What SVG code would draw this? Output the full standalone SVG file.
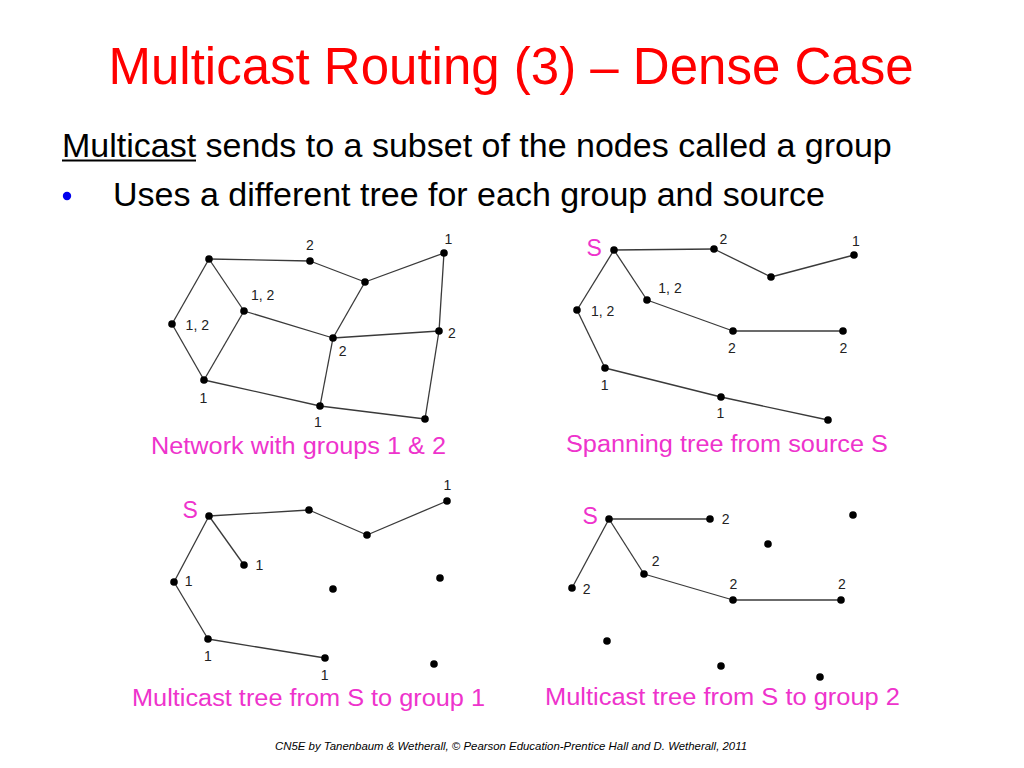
<svg xmlns="http://www.w3.org/2000/svg" width="1024" height="768" viewBox="0 0 1024 768">
<style>
.title{font-family:"Liberation Sans",Arial,sans-serif;font-size:51px;fill:#ff0000}
.body{font-family:"Liberation Sans",Arial,sans-serif;font-size:34px;fill:#000}
.cap{font-family:"Liberation Sans",Arial,sans-serif;font-size:23px;fill:#ee33cc}
.src{font-family:"Liberation Sans",Arial,sans-serif;font-size:23px;fill:#ee33cc}
.lbl{font-family:"Liberation Sans",Arial,sans-serif;font-size:14px;fill:#222;text-anchor:middle}
.foot{font-family:"Liberation Sans",Arial,sans-serif;font-size:11px;font-style:italic;fill:#000}
.n{fill:#000}
.e line{stroke:#3a3a3a;stroke-width:1.3}
</style>
<rect width="1024" height="768" fill="#fff"/>
<text class="title" x="511" y="84" text-anchor="middle">Multicast Routing (3) – Dense Case</text>
<text class="body" x="62" y="157">Multicast sends to a subset of the nodes called a group</text>
<rect x="62" y="159.5" width="134" height="2" fill="#000"/>
<circle cx="67" cy="196" r="4.2" fill="#0000ee"/>
<text class="body" x="113" y="206">Uses a different tree for each group and source</text>

<g id="connectors">
<g class="e" id="edges-network">
<line x1="209" y1="259" x2="310" y2="261"/>
<line x1="310" y1="261" x2="365" y2="282"/>
<line x1="365" y1="282" x2="444" y2="253"/>
<line x1="209" y1="259" x2="172" y2="324"/>
<line x1="209" y1="259" x2="244" y2="311"/>
<line x1="172" y1="324" x2="204" y2="380"/>
<line x1="244" y1="311" x2="204" y2="380"/>
<line x1="244" y1="311" x2="333" y2="338"/>
<line x1="365" y1="282" x2="333" y2="338"/>
<line x1="333" y1="338" x2="439" y2="331"/>
<line x1="444" y1="253" x2="439" y2="331"/>
<line x1="333" y1="338" x2="320" y2="406"/>
<line x1="204" y1="380" x2="320" y2="406"/>
<line x1="320" y1="406" x2="425" y2="419"/>
<line x1="439" y1="331" x2="425" y2="419"/>
</g>
<g class="e" id="edges-spanning">
<line x1="614" y1="250" x2="714" y2="249"/>
<line x1="714" y1="249" x2="771" y2="277"/>
<line x1="771" y1="277" x2="854" y2="255"/>
<line x1="614" y1="250" x2="647" y2="300"/>
<line x1="647" y1="300" x2="733" y2="331"/>
<line x1="733" y1="331" x2="843" y2="331"/>
<line x1="614" y1="250" x2="577" y2="310"/>
<line x1="577" y1="310" x2="605" y2="368"/>
<line x1="605" y1="368" x2="721" y2="397"/>
<line x1="721" y1="397" x2="828" y2="420"/>
</g>
<g class="e" id="edges-group1">
<line x1="209" y1="516" x2="309" y2="510"/>
<line x1="309" y1="510" x2="367" y2="535"/>
<line x1="367" y1="535" x2="447" y2="501"/>
<line x1="209" y1="516" x2="244" y2="565"/>
<line x1="209" y1="516" x2="174" y2="582"/>
<line x1="174" y1="582" x2="208" y2="639"/>
<line x1="208" y1="639" x2="325" y2="658"/>
</g>
<g class="e" id="edges-group2">
<line x1="609" y1="519" x2="710" y2="519"/>
<line x1="609" y1="519" x2="644" y2="574"/>
<line x1="644" y1="574" x2="733" y2="600"/>
<line x1="733" y1="600" x2="841" y2="600"/>
<line x1="609" y1="519" x2="572" y2="588"/>
</g>
</g>

<g id="network">
<g id="n1-a"><circle class="n" cx="209" cy="259" r="3.8"/></g>
<g id="n1-b"><circle class="n" cx="310" cy="261" r="3.8"/><text class="lbl" x="310" y="250">2</text></g>
<g id="n1-c"><circle class="n" cx="365" cy="282" r="3.8"/></g>
<g id="n1-d"><circle class="n" cx="444" cy="253" r="3.8"/><text class="lbl" x="448.5" y="243.5">1</text></g>
<g id="n1-e"><circle class="n" cx="172" cy="324" r="3.8"/><text class="lbl" x="197.3" y="329.5">1, 2</text></g>
<g id="n1-f"><circle class="n" cx="244" cy="311" r="3.8"/><text class="lbl" x="262.7" y="299.5">1, 2</text></g>
<g id="n1-g"><circle class="n" cx="333" cy="338" r="3.8"/><text class="lbl" x="342.7" y="356">2</text></g>
<g id="n1-h"><circle class="n" cx="439" cy="331" r="3.8"/><text class="lbl" x="452" y="337.5">2</text></g>
<g id="n1-i"><circle class="n" cx="204" cy="380" r="3.8"/><text class="lbl" x="203.3" y="402.5">1</text></g>
<g id="n1-j"><circle class="n" cx="320" cy="406" r="3.8"/><text class="lbl" x="318" y="426.5">1</text></g>
<g id="n1-k"><circle class="n" cx="425" cy="419" r="3.8"/></g>
<text class="cap" x="151" y="454" textLength="295" lengthAdjust="spacingAndGlyphs">Network with groups 1 &amp; 2</text>
</g>

<g id="spanning">
<g id="n2-s"><circle class="n" cx="614" cy="250" r="3.8"/><text class="src" x="586.5" y="256">S</text></g>
<g id="n2-b"><circle class="n" cx="714" cy="249" r="3.8"/><text class="lbl" x="723.3" y="243.5">2</text></g>
<g id="n2-c"><circle class="n" cx="771" cy="277" r="3.8"/></g>
<g id="n2-d"><circle class="n" cx="854" cy="255" r="3.8"/><text class="lbl" x="856" y="246">1</text></g>
<g id="n2-e"><circle class="n" cx="577" cy="310" r="3.8"/><text class="lbl" x="602.7" y="315.5">1, 2</text></g>
<g id="n2-f"><circle class="n" cx="647" cy="300" r="3.8"/><text class="lbl" x="670" y="292.5">1, 2</text></g>
<g id="n2-g"><circle class="n" cx="733" cy="331" r="3.8"/><text class="lbl" x="732" y="352.5">2</text></g>
<g id="n2-h"><circle class="n" cx="843" cy="331" r="3.8"/><text class="lbl" x="843.3" y="352.5">2</text></g>
<g id="n2-i"><circle class="n" cx="605" cy="368" r="3.8"/><text class="lbl" x="604.7" y="389.5">1</text></g>
<g id="n2-j"><circle class="n" cx="721" cy="397" r="3.8"/><text class="lbl" x="720.3" y="417.5">1</text></g>
<g id="n2-k"><circle class="n" cx="828" cy="420" r="3.8"/></g>
<text class="cap" x="566" y="452" textLength="322" lengthAdjust="spacingAndGlyphs">Spanning tree from source S</text>
</g>

<g id="group1">
<g id="n3-s"><circle class="n" cx="209" cy="516" r="3.8"/><text class="src" x="182.5" y="518">S</text></g>
<g id="n3-b"><circle class="n" cx="309" cy="510" r="3.8"/></g>
<g id="n3-c"><circle class="n" cx="367" cy="535" r="3.8"/></g>
<g id="n3-d"><circle class="n" cx="447" cy="501" r="3.8"/><text class="lbl" x="447.3" y="490">1</text></g>
<g id="n3-f"><circle class="n" cx="244" cy="565" r="3.8"/><text class="lbl" x="259.3" y="569.5">1</text></g>
<g id="n3-e"><circle class="n" cx="174" cy="582" r="3.8"/><text class="lbl" x="188.7" y="586">1</text></g>
<g id="n3-g"><circle class="n" cx="333" cy="589" r="3.8"/></g>
<g id="n3-h"><circle class="n" cx="440" cy="578" r="3.8"/></g>
<g id="n3-i"><circle class="n" cx="208" cy="639" r="3.8"/><text class="lbl" x="208" y="661">1</text></g>
<g id="n3-j"><circle class="n" cx="325" cy="658" r="3.8"/><text class="lbl" x="324.7" y="680">1</text></g>
<g id="n3-k"><circle class="n" cx="434" cy="664" r="3.8"/></g>
<text class="cap" x="132" y="706" textLength="353" lengthAdjust="spacingAndGlyphs">Multicast tree from S to group 1</text>
</g>

<g id="group2">
<g id="n4-s"><circle class="n" cx="609" cy="519" r="3.8"/><text class="src" x="582.5" y="524">S</text></g>
<g id="n4-b"><circle class="n" cx="710" cy="519" r="3.8"/><text class="lbl" x="725.7" y="523.5">2</text></g>
<g id="n4-c"><circle class="n" cx="768" cy="544" r="3.8"/></g>
<g id="n4-d"><circle class="n" cx="853" cy="515" r="3.8"/></g>
<g id="n4-f"><circle class="n" cx="644" cy="574" r="3.8"/><text class="lbl" x="655.7" y="566">2</text></g>
<g id="n4-e"><circle class="n" cx="572" cy="588" r="3.8"/><text class="lbl" x="586.7" y="593.5">2</text></g>
<g id="n4-g"><circle class="n" cx="733" cy="600" r="3.8"/><text class="lbl" x="733.3" y="588.5">2</text></g>
<g id="n4-h"><circle class="n" cx="841" cy="600" r="3.8"/><text class="lbl" x="842" y="588.5">2</text></g>
<g id="n4-i"><circle class="n" cx="607" cy="641" r="3.8"/></g>
<g id="n4-j"><circle class="n" cx="721" cy="666" r="3.8"/></g>
<g id="n4-k"><circle class="n" cx="820" cy="677" r="3.8"/></g>
<text class="cap" x="545" y="705" textLength="355" lengthAdjust="spacingAndGlyphs">Multicast tree from S to group 2</text>
</g>

<text class="foot" x="275" y="750" textLength="472" lengthAdjust="spacingAndGlyphs">CN5E by Tanenbaum &amp; Wetherall, © Pearson Education-Prentice Hall and D. Wetherall, 2011</text>
</svg>
